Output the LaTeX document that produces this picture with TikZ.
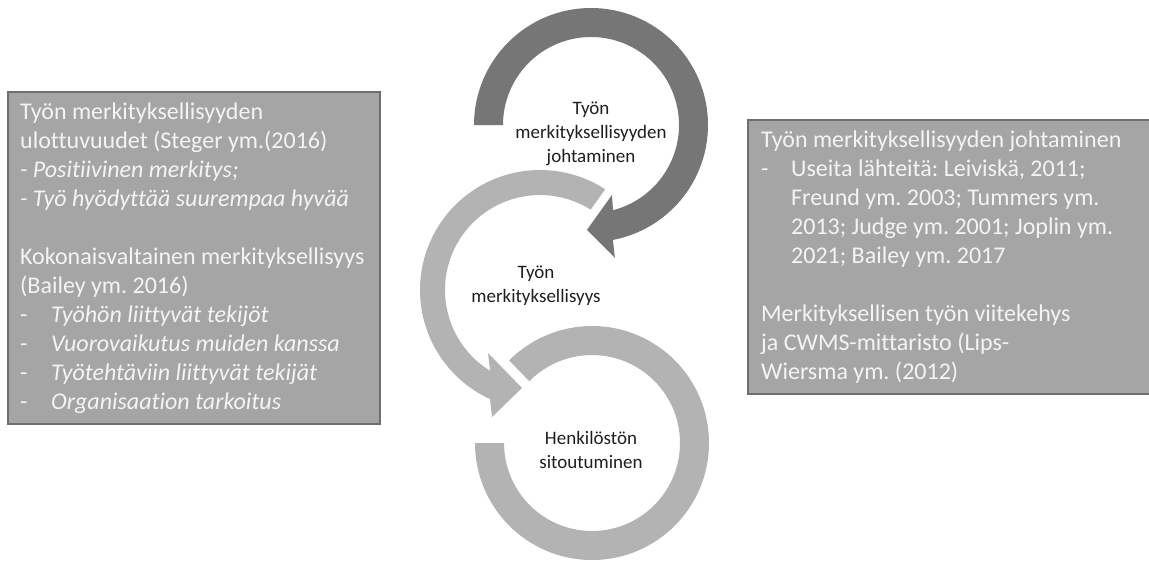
\documentclass[tikz,border=0pt]{standalone}
\usepackage{fontspec}
\setmainfont{Carlito}[RawFeature={-liga;-clig;-dlig;-calt}]
\usetikzlibrary{calc}
\definecolor{ringdark}{HTML}{767676}
\definecolor{ringlight}{HTML}{B3B3B3}
\definecolor{boxfill}{HTML}{A5A5A5}
\definecolor{boxline}{HTML}{6E6E6E}
\definecolor{boxtext}{HTML}{F4F4F4}
\definecolor{labeltext}{HTML}{1E1E1E}
\newcommand{\itemtab}[1]{\makebox[#1][l]{-}}
\frenchspacing
\begin{document}
\begin{tikzpicture}[x=1pt,y=1pt,
  infobox/.style={fill=boxfill,draw=boxline,line width=1.6pt},
  boxtextstyle/.style={anchor=base west,inner sep=0pt,text=boxtext,
    font=\fontsize{24}{29}\selectfont},
  ringlabel/.style={align=center,text=labeltext,inner sep=0pt,
    font=\fontsize{19}{24}\selectfont}]
\useasboundingbox (0,0) rectangle (1149,-563);

% ---- text boxes ----
\path[infobox] (8,-92) rectangle (380,-424);
\path[infobox] (748,-120) rectangle (1152,-394);

\node[boxtextstyle] (lefttext) at (20,-119) {\parbox[t]{355pt}{\raggedright
Työn merkityksellisyyden\\
ulottuvuudet (Steger ym.(2016)\\
\textit{- Positiivinen merkitys;}\\
\textit{- Työ hyödyttää suurempaa hyvää}\\
\mbox{}\\
Kokonaisvaltainen merkityksellisyys\\
(Bailey ym. 2016)\\
\itemtab{31pt}\textit{Työhön liittyvät tekijöt}\\
\itemtab{31pt}\textit{Vuorovaikutus muiden kanssa}\\
\itemtab{31pt}\textit{Työtehtäviin liittyvät tekijät}\\
\itemtab{31pt}\textit{Organisaation tarkoitus}}};

\node[boxtextstyle] (righttext) at (761,-147) {\parbox[t]{385pt}{\raggedright
Työn merkityksellisyyden johtaminen\\
\itemtab{30pt}Useita lähteitä: Leiviskä, 2011;\\
\hspace*{30pt}Freund ym. 2003; Tummers ym.\\
\hspace*{30pt}2013; Judge ym. 2001; Joplin ym.\\
\hspace*{30pt}2021; Bailey ym. 2017\\
\mbox{}\\
Merkityksellisen työn viitekehys\\
ja CWMS-mittaristo (Lips-\\
Wiersma ym. (2012)}};

% ---- circular arrows ----
\coordinate (C1) at (591,-125);
\coordinate (C2) at (540,-290);
\coordinate (C3) at (592,-443);

% top ring, dark, clockwise with head at the bottom
\fill[ringdark] ($(C1)+(180:117)$) arc[start angle=180,end angle=-79.2,radius=117]
  -- ($(C1)+(-79.8:135)$) -- ($(C1)+(-92.2:105)$) -- ($(C1)+(-73.3:73)$)
  -- ($(C1)+(-75.5:88)$) arc[start angle=-75.5,end angle=180,radius=88] -- cycle;

% middle ring, light, counter-clockwise with head at the bottom
\fill[ringlight] ($(C2)+(57.1:120)$) arc[start angle=57.1,end angle=245.4,radius=120]
  -- ($(C2)+(249.3:135.8)$) -- ($(C2)+(259.6:99.6)$) -- ($(C2)+(230.5:81.7)$)
  -- ($(C2)+(238.3:95)$) arc[start angle=238.3,end angle=57.8,radius=95] -- cycle;

% bottom ring, light, open at the upper left
\fill[ringlight] ($(C3)+(180:117)$) arc[start angle=180,end angle=495.1,radius=117]
  -- ($(C3)+(135.4:88)$) arc[start angle=495.4,end angle=180,radius=88] -- cycle;

\node[ringlabel] (lead) at (591,-134) {Työn\\merkityksellisyyden\\johtaminen};
\node[ringlabel] (meaning) at (536,-286) {Työn\\merkityksellisyys};
\node[ringlabel] (commit) at (591,-450) {Henkilöstön\\sitoutuminen};
\end{tikzpicture}
\end{document}
